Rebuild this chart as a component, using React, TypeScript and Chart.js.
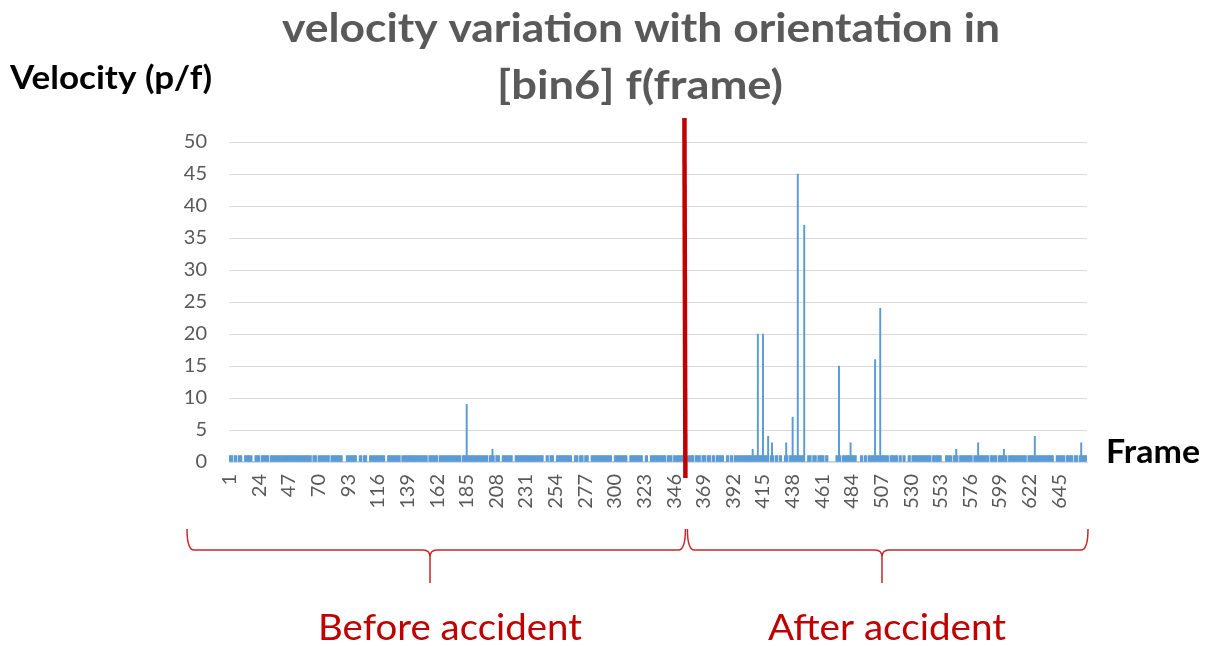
import { useEffect, useRef } from "react";
import { Chart, registerables } from "chart.js";

Chart.register(...registerables);

// ---- data ----
const FRAME_COUNT = 666;
const tickFrames = [1, 24, 47, 70, 93, 116, 139, 162, 185, 208, 231, 254, 277, 300, 323, 346, 369, 392, 415, 438, 461, 484, 507, 530, 553, 576, 599, 622, 645];
// runs of frames with velocity 1 (frames outside runs are 0)
const unitRuns: [number, number][] = [
  [1, 3], [5, 6], [8, 10], [13, 18], [21, 24], [26, 31], [33, 64], [66, 68], [70, 78], [80, 88],
  [92, 99], [102, 103], [105, 107], [110, 121], [124, 133], [135, 154], [156, 162], [164, 180],
  [182, 201], [203, 206], [208, 210], [213, 220], [223, 244], [247, 248], [250, 252], [255, 266],
  [269, 271], [273, 275], [277, 279], [282, 297], [300, 309], [312, 321], [324, 325], [328, 339],
  [341, 344], [346, 355], [357, 361], [363, 366], [368, 370], [372, 374], [376, 377], [379, 384],
  [387, 388], [390, 391], [393, 418], [421, 423], [425, 426], [428, 429], [432, 434], [436, 447],
  [450, 452], [454, 456], [458, 462], [464, 465], [472, 475], [477, 487], [491, 492], [494, 495],
  [497, 512], [514, 519], [521, 522], [524, 525], [528, 529], [531, 545], [547, 553], [557, 561],
  [563, 566], [568, 577], [579, 590], [592, 596], [598, 601], [603, 604], [606, 619], [621, 640],
  [643, 649], [651, 655], [657, 659], [661, 666],
];
const spikeFrames = [185, 205, 407, 411, 415, 419, 422, 433, 438, 442, 447, 474, 483, 502, 506, 565, 582, 602, 626, 662];
const spikeValues = [9, 2, 2, 20, 20, 4, 3, 3, 7, 45, 37, 15, 3, 16, 24, 2, 3, 2, 4, 3];
const accidentFrame = 354;

const titleLines = ["velocity variation with orientation in", "[bin6] f(frame)"];
const yTitle = "Velocity (p/f)";
const xTitle = "Frame";
const beforeText = "Before accident";
const afterText = "After accident";

function buildSeries(): number[] {
  const v: number[] = new Array(FRAME_COUNT).fill(0);
  unitRuns.forEach(([a, b]) => {
    for (let f = a; f <= b; f++) v[f - 1] = 1;
  });
  spikeFrames.forEach((f, i) => {
    v[f - 1] = spikeValues[i];
  });
  return v;
}

const frameLabels = Array.from({ length: FRAME_COUNT }, (_, i) => String(i + 1));
const tickSet = new Set(tickFrames.map(String));

const RED = "#c00000";

function drawBrace(ctx: CanvasRenderingContext2D, x0: number, x1: number, xm: number, yTop: number, yMid: number, yTip: number) {
  const r = 7;
  ctx.beginPath();
  ctx.moveTo(x0, yTop);
  ctx.quadraticCurveTo(x0, yMid, x0 + r, yMid);
  ctx.lineTo(xm - r, yMid);
  ctx.quadraticCurveTo(xm, yMid, xm, yMid + r);
  ctx.lineTo(xm, yTip);
  ctx.moveTo(xm, yMid + r);
  ctx.quadraticCurveTo(xm, yMid, xm + r, yMid);
  ctx.lineTo(x1 - r, yMid);
  ctx.quadraticCurveTo(x1, yMid, x1, yTop);
  ctx.stroke();
}

// draws text centred at cx, stretched horizontally to the given width
function drawFitted(ctx: CanvasRenderingContext2D, text: string, cx: number, baseline: number, width: number) {
  const w = ctx.measureText(text).width;
  const sx = width / w;
  ctx.save();
  ctx.translate(cx, baseline);
  ctx.scale(sx, 1);
  ctx.textAlign = "center";
  ctx.fillText(text, 0, 0);
  ctx.restore();
}

const overlayPlugin = {
  id: "overlay",
  afterDraw(chart: any) {
    const ctx: CanvasRenderingContext2D = chart.ctx;
    const xs = chart.scales.x;
    const area = chart.chartArea;
    ctx.save();
    ctx.textBaseline = "alphabetic";
    // title
    ctx.fillStyle = "#595959";
    ctx.font = "bold 41px Lato";
    drawFitted(ctx, titleLines[0], 641, 42, 718);
    drawFitted(ctx, titleLines[1], 640, 99, 286);
    // axis titles
    ctx.fillStyle = "#000000";
    ctx.font = "bold 32px Lato";
    drawFitted(ctx, yTitle, 111, 89, 202);
    drawFitted(ctx, xTitle, 1153, 463, 94);
    // accident line
    const xa = xs.getPixelForValue(accidentFrame - 1);
    ctx.strokeStyle = RED;
    ctx.lineWidth = 4.5;
    ctx.beginPath();
    ctx.moveTo(xa, 118);
    ctx.lineTo(xa + 1, 478);
    ctx.stroke();
    // braces
    ctx.strokeStyle = "#c8262b";
    ctx.lineWidth = 1.5;
    drawBrace(ctx, 187, xa + 1, 430, 529, 550, 583);
    drawBrace(ctx, xa + 3, area.right + 1, 882, 529, 550, 583);
    // labels
    ctx.fillStyle = RED;
    ctx.font = "36px Lato";
    drawFitted(ctx, beforeText, 450, 640, 264);
    drawFitted(ctx, afterText, 887, 640, 238);
    ctx.restore();
  },
};

export default function App() {
  const ref = useRef<HTMLCanvasElement | null>(null);
  useEffect(() => {
    if (!ref.current) return;
    const chart = new Chart(ref.current, {
      type: "bar",
      data: {
        labels: frameLabels,
        datasets: [
          {
            data: buildSeries(),
            backgroundColor: "#5b9bd5",
            barPercentage: 1,
            categoryPercentage: 1,
          },
        ],
      },
      options: {
        animation: false,
        responsive: false,
        devicePixelRatio: 1,
        layout: { padding: { top: 142, right: 131, bottom: 0, left: 0 } },
        plugins: { legend: { display: false }, tooltip: { enabled: false }, title: { display: false } },
        scales: {
          x: {
            grid: { display: false, drawTicks: false },
            border: { display: true, color: "#d9d9d9" },
            ticks: {
              autoSkip: false,
              maxRotation: 90,
              minRotation: 90,
              padding: 12,
              color: "#595959",
              font: { family: "Lato", size: 20 },
              callback: (_v: any, i: number) => (tickSet.has(frameLabels[i]) ? frameLabels[i] : ""),
            },
            afterFit: (s: any) => {
              s.height = 184;
            },
          },
          y: {
            min: 0,
            max: 50,
            ticks: { stepSize: 5, padding: 22, color: "#595959", font: { family: "Lato", size: 20 } },
            grid: { color: "#d9d9d9", drawTicks: false },
            border: { display: false },
            afterFit: (s: any) => {
              s.width = 229;
            },
          },
        },
      },
      plugins: [overlayPlugin],
    });
    return () => chart.destroy();
  }, []);
  return (
    <div style={{ position: "absolute", left: 0, top: 0, width: 1218, height: 646, background: "#fff" }}>
      <canvas ref={ref} width={1218} height={646} style={{ width: 1218, height: 646 }} />
    </div>
  );
}
